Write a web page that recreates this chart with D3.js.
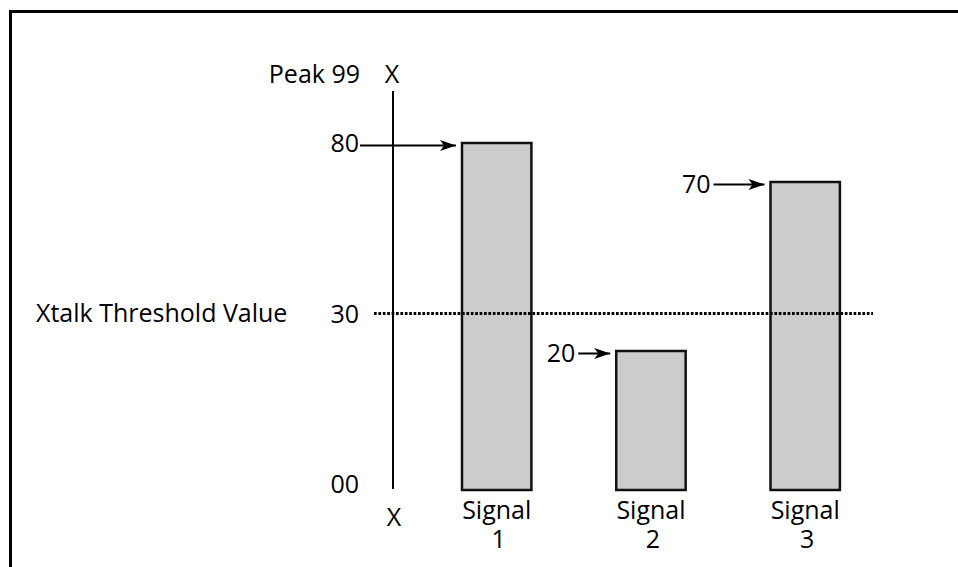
<!DOCTYPE html>
<html>
<head>
<meta charset="utf-8">
<script src="https://cdn.jsdelivr.net/npm/d3@7"></script>
<style>
  html, body { margin: 0; padding: 0; background: #fff; }
  svg { display: block; }
  text { font-family: "Open Sans", sans-serif; font-size: 25px; fill: #000; }
</style>
</head>
<body>
<svg id="chart" width="958" height="567"></svg>
<script>
// ---- data ----
const categories = ["Signal 1", "Signal 2", "Signal 3"];
const values = [80, 20, 70];
const threshold = 30;
const thresholdLabel = "Xtalk Threshold Value";
const peakLabel = "Peak 99";
const axisTickValues = [0, 30, 80];
const axisTickLabels = ["00", "30", "80"];
// schematic (non-linear) value axis breakpoints
const scaleDomain = [0, 20, 30, 70, 80];

// ---- layout ----
const W = 958, H = 567;
const axisX = 393;
const svg = d3.select("#chart");

const y = d3.scaleLinear().domain(scaleDomain).range([490, 351, 314, 182, 143]);
const x = d3.scaleBand().domain(categories).range([431.15, 870.75])
  .paddingInner(0.55).paddingOuter(0.2);

// frame (top + left border)
svg.append("path")
  .attr("d", `M10.5,${H} L10.5,11.5 L${W},11.5`)
  .attr("fill", "none").attr("stroke", "#000").attr("stroke-width", 3);

// arrow marker
svg.append("defs").append("marker")
  .attr("id", "arrow").attr("markerUnits", "userSpaceOnUse")
  .attr("viewBox", "0 -6 17 12").attr("refX", 16).attr("refY", 0)
  .attr("markerWidth", 17).attr("markerHeight", 12).attr("orient", "auto")
  .append("path").attr("d", "M0,-5.5 L16,0 L0,5.5 L4,0 Z").attr("fill", "#000");

// vertical axis line
svg.append("line")
  .attr("x1", axisX).attr("x2", axisX)
  .attr("y1", 91).attr("y2", y(0) - 1)
  .attr("stroke", "#000").attr("stroke-width", 2);

// axis end labels
svg.append("text").attr("x", axisX - 1).attr("y", 83).attr("text-anchor", "middle").text("X");
svg.append("text").attr("x", axisX + 1).attr("y", 526).attr("text-anchor", "middle").text("X");
svg.append("text").attr("x", 360).attr("y", 83).attr("text-anchor", "end").text(peakLabel);

// tick labels via d3 axis
const yAxis = d3.axisLeft(y).tickValues(axisTickValues)
  .tickFormat((d, i) => axisTickLabels[i]).tickSize(0).tickPadding(34);
const axG = svg.append("g").attr("transform", `translate(${axisX},0)`).call(yAxis);
axG.select(".domain").remove();
axG.selectAll("text")
  .style("font-family", '"Open Sans", sans-serif').style("font-size", "25px").attr("fill", "#000")
  .attr("dy", d => d === 0 ? "0.1em" : "0.35em");

// bars
svg.selectAll("rect.bar").data(values).join("rect")
  .attr("class", "bar")
  .attr("x", (d, i) => x(categories[i]))
  .attr("y", d => y(d))
  .attr("width", x.bandwidth())
  .attr("height", d => y(0) - y(d))
  .attr("fill", "#cccccc").attr("stroke", "#111").attr("stroke-width", 2.5);

// threshold dotted line
svg.append("line")
  .attr("x1", 374).attr("x2", 873)
  .attr("y1", y(threshold) - 0.5).attr("y2", y(threshold) - 0.5)
  .attr("stroke", "#000").attr("stroke-width", 3)
  .attr("stroke-dasharray", "2.7,1.7");
svg.append("text").attr("x", 36).attr("y", y(threshold)).attr("dy", "0.3em").text(thresholdLabel);

// value arrows: first from axis tick label, others with own labels
const arrowStarts = [360, null, null];
const arrowLengths = [null, 32, 51];
values.forEach((v, i) => {
  const bx = x(categories[i]);
  const ay = y(v) + 2.5;
  const tip = bx - 6;
  let start;
  if (arrowStarts[i] !== null) {
    start = arrowStarts[i];
  } else {
    start = tip - arrowLengths[i];
    svg.append("text").attr("x", start - 3).attr("y", ay).attr("dy", "0.35em")
      .attr("text-anchor", "end").text(String(v));
  }
  svg.append("line").attr("x1", start).attr("x2", tip).attr("y1", ay).attr("y2", ay)
    .attr("stroke", "#000").attr("stroke-width", 2).attr("marker-end", "url(#arrow)");
});

// category labels (two lines)
categories.forEach(c => {
  const parts = c.split(" ");
  const cx = x(c) + x.bandwidth() / 2;
  const t = svg.append("text").attr("text-anchor", "middle");
  t.append("tspan").attr("x", cx).attr("y", 519).text(parts[0]);
  t.append("tspan").attr("x", cx + 2).attr("y", 548).text(parts[1]);
});
</script>
</body>
</html>
